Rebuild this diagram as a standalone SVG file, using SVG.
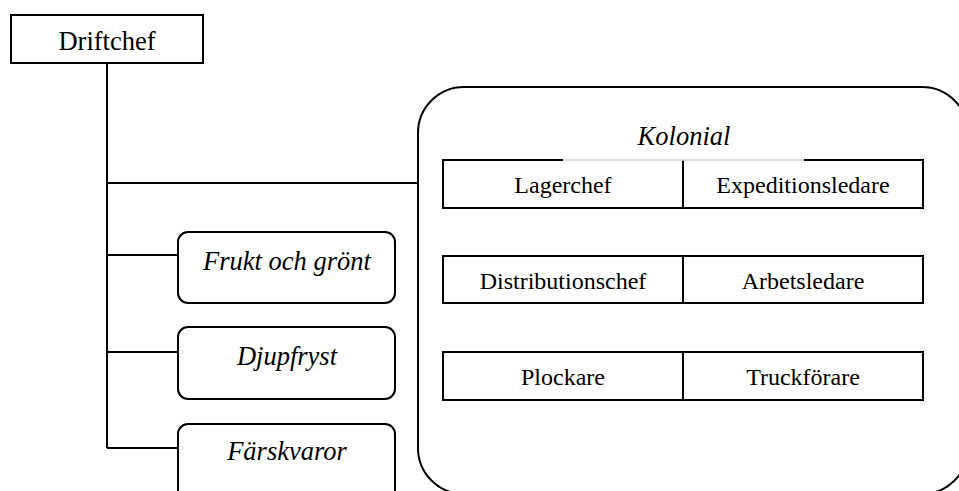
<svg xmlns="http://www.w3.org/2000/svg" width="959" height="491" viewBox="0 0 959 491">
  <style>
    .box { fill: #fff; stroke: #000; stroke-width: 2; }
    .line { fill: none; stroke: #000; stroke-width: 2; }
    .t { font-family: 'Liberation Serif', 'Times New Roman', serif; font-size: 24px; fill: #000; text-anchor: middle; }
    .big { font-size: 26.5px; }
    .i { font-style: italic; font-size: 26.5px; }
  </style>
  <rect width="959" height="491" fill="#fff"/>

  <!-- connectors -->
  <g id="connectors">
    <path class="line" d="M107,63 V448"/>
    <path class="line" d="M107,183 H418"/>
    <path class="line" d="M107,255 H178"/>
    <path class="line" d="M107,352 H178"/>
    <path class="line" d="M107,448 H178"/>
    <path class="line" d="M563,208 V256"/>
    <path class="line" d="M827,303 V352"/>
  </g>

  <g id="driftchef">
    <rect class="box" x="11" y="15" width="192" height="48"/>
    <text class="t big" x="107" y="50">Driftchef</text>
  </g>

  <g id="frukt-och-gront">
    <rect class="box" x="178" y="232" width="217" height="71" rx="10"/>
    <text class="t i" x="287" y="270">Frukt och grönt</text>
  </g>

  <g id="djupfryst">
    <rect class="box" x="178" y="327" width="217" height="72" rx="10"/>
    <text class="t i" x="287" y="365">Djupfryst</text>
  </g>

  <g id="farskvaror">
    <rect class="box" x="178" y="424" width="217" height="80" rx="10"/>
    <text class="t i" x="287" y="460">Färskvaror</text>
  </g>

  <g id="kolonial">
    <rect class="box" x="418" y="87" width="550" height="407" rx="46"/>
    <text class="t i" x="684" y="145">Kolonial</text>
  </g>

  <g id="lagerchef">
    <rect x="443" y="160" width="240" height="48" fill="#fff"/>
    <path class="line" d="M563,160 H443 V208 H683"/>
    <text class="t" x="563" y="193">Lagerchef</text>
  </g>

  <g id="expeditionsledare">
    <rect x="683" y="160" width="240" height="48" fill="#fff"/>
    <path class="line" d="M804,160 H923 V208 H683 V160"/>
    <text class="t" x="803" y="193">Expeditionsledare</text>
  </g>
  <!-- faint top edge under the Kolonial heading -->
  <path d="M563,160 H804" stroke="#d0d0d0" stroke-width="1.5" fill="none"/>

  <g id="distributionschef">
    <rect class="box" x="443" y="256" width="240" height="47"/>
    <text class="t" x="563" y="289">Distributionschef</text>
  </g>

  <g id="arbetsledare">
    <rect class="box" x="683" y="256" width="240" height="47"/>
    <text class="t" x="803" y="289">Arbetsledare</text>
  </g>

  <g id="plockare">
    <rect class="box" x="443" y="352" width="240" height="48"/>
    <text class="t" x="563" y="385">Plockare</text>
  </g>

  <g id="truckforare">
    <rect class="box" x="683" y="352" width="240" height="48"/>
    <text class="t" x="803" y="385">Truckförare</text>
  </g>
</svg>
